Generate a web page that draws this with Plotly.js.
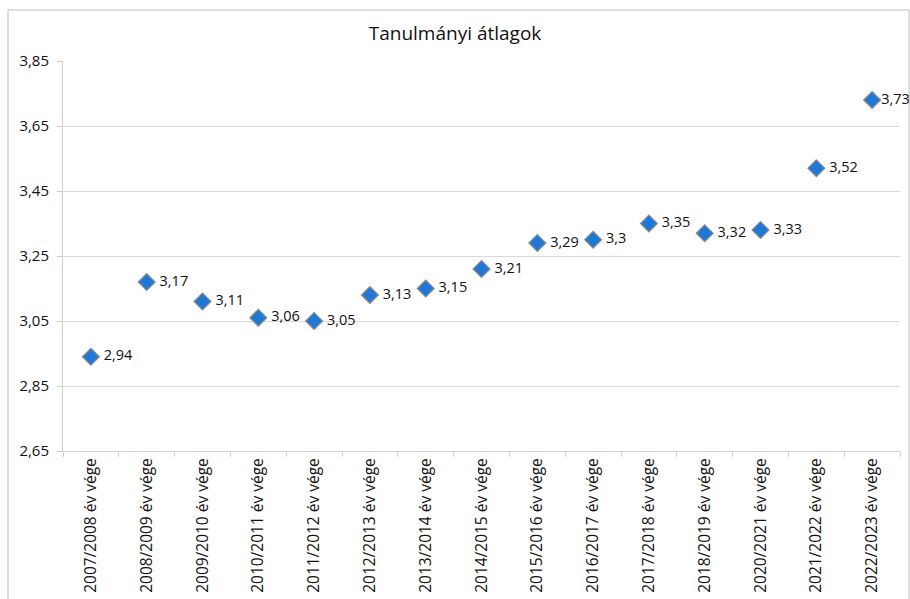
<!DOCTYPE html>
<html>
<head>
<meta charset="utf-8">
<script src="https://cdn.plot.ly/plotly-3.0.1.min.js"></script>
<style>html,body{margin:0;padding:0;background:#fff}#chart{width:910px;height:599px}</style>
</head>
<body>
<div id="chart"></div>
<script>
const categories = ["2007/2008 év vége","2008/2009 év vége","2009/2010 év vége","2010/2011 év vége","2011/2012 év vége","2012/2013 év vége","2013/2014 év vége","2014/2015 év vége","2015/2016 év vége","2016/2017 év vége","2017/2018 év vége","2018/2019 év vége","2020/2021 év vége","2021/2022 év vége","2022/2023 év vége"];
const averages = [2.94,3.17,3.11,3.06,3.05,3.13,3.15,3.21,3.29,3.3,3.35,3.32,3.33,3.52,3.73];
const yTicks = [2.65,2.85,3.05,3.25,3.45,3.65,3.85];
const labels = averages.map((v, i) => (i === averages.length - 1 ? "" : " ") + String(v).replace('.', ','));
const yTickText = yTicks.map(v => v.toFixed(2).replace('.', ','));

const font = "Open Sans, Liberation Sans, sans-serif";
const trace = {
  type: 'scatter', mode: 'markers+text',
  x: categories, y: averages, text: labels,
  textposition: 'middle right',
  textfont: {family: font, size: 14.5, color: '#111'},
  marker: {symbol: 'diamond', size: 13, color: '#1f78d6', line: {color: '#8a8a8a', width: 1.2}},
  cliponaxis: false, hoverinfo: 'x+y'
};
const layout = {
  width: 910, height: 599,
  margin: {l: 63, r: 10, t: 61, b: 148},
  paper_bgcolor: '#fff', plot_bgcolor: '#fff',
  showlegend: false,
  title: {text: 'Tanulmányi átlagok', font: {family: font, size: 19, color: '#111'}, x: 0.5, xanchor: 'center', y: 0.945, yanchor: 'middle'},
  xaxis: {
    type: 'category', tickangle: -90, tickfont: {family: font, size: 15.5, color: '#111'},
    showgrid: false, showline: true, linecolor: '#d0d0d0', linewidth: 1,
    ticks: 'outside', tickson: 'boundaries', ticklen: 5, tickcolor: '#d0d0d0',
    range: [-0.5, categories.length - 0.5], fixedrange: true
  },
  yaxis: {
    range: [2.65, 3.85], tickvals: yTicks, ticktext: yTickText,
    tickfont: {family: font, size: 15, color: '#111'},
    showgrid: true, gridcolor: '#d9d9d9', gridwidth: 1,
    showline: true, linecolor: '#d0d0d0', ticks: 'outside', ticklen: 5, tickcolor: '#d0d0d0',
    ticklabelstandoff: 5,
    zeroline: false, fixedrange: true
  },
  shapes: [{type: 'rect', xref: 'paper', yref: 'paper', x0: -0.0657, x1: 1.0108, y0: -0.6, y1: 1.1308, line: {color: '#bdbdbd', width: 1}, layer: 'below'}]
};
Plotly.newPlot('chart', [trace], layout, {staticPlot: true});
</script>
</body>
</html>
